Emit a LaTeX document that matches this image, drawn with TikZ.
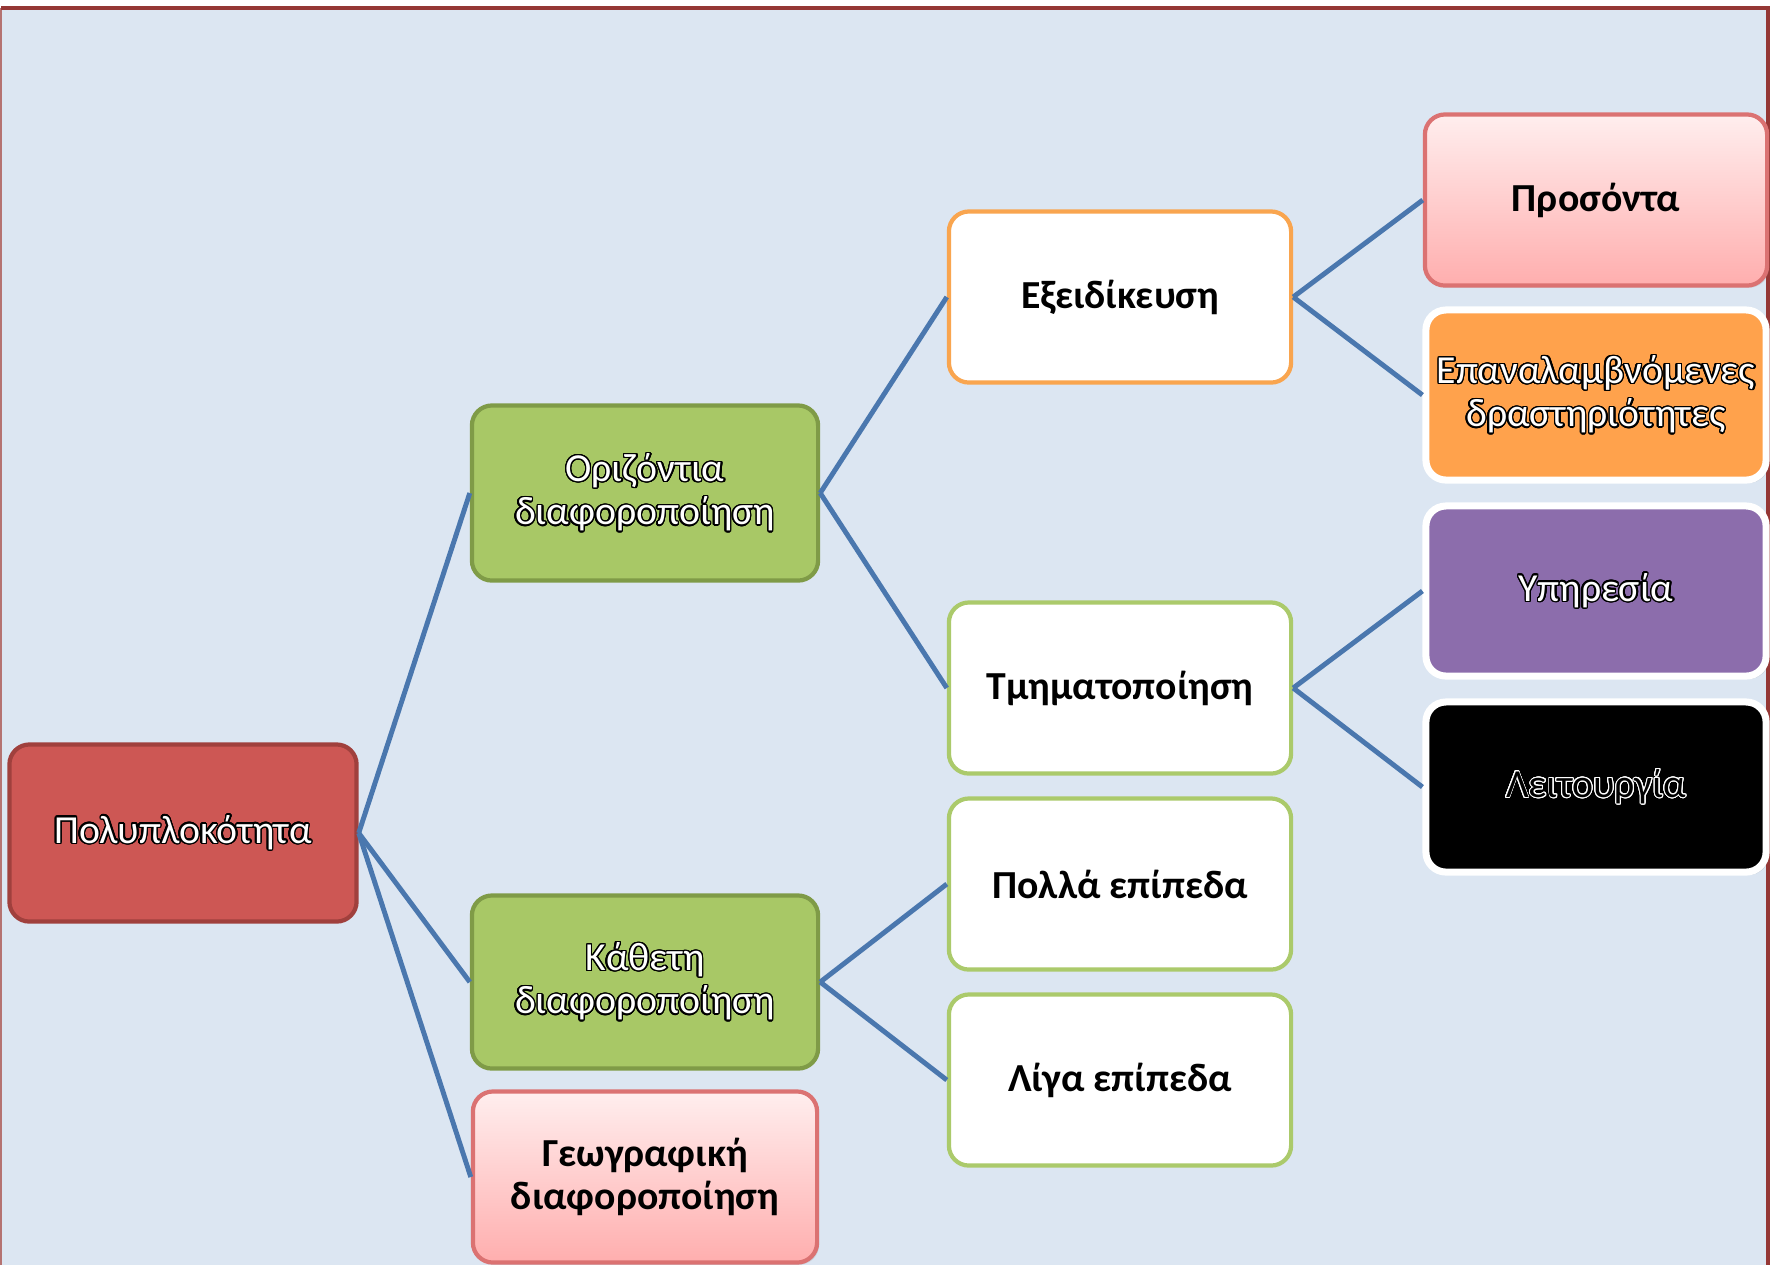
\documentclass[tikz,border=0pt]{standalone}
\usepackage{fontspec}
\setmainfont{Carlito}
\usepackage{xcolor}
\usepackage[copies]{contour}
\usetikzlibrary{shadows,positioning}

\definecolor{bgblue}{HTML}{DCE6F2}
\definecolor{framered}{HTML}{953735}
\definecolor{rootred}{HTML}{CD5754}
\definecolor{rootline}{HTML}{A0403D}
\definecolor{leafgreen}{HTML}{A8C866}
\definecolor{leafline}{HTML}{7F9B47}
\definecolor{lightgreen}{HTML}{ABCA6B}
\definecolor{orangeline}{HTML}{F9A54F}
\definecolor{orangefill}{HTML}{FFA24C}
\definecolor{purplefill}{HTML}{8C6DAC}
\definecolor{pinktop}{HTML}{FFEEEE}
\definecolor{pinkbot}{HTML}{FFAEAE}
\definecolor{pinkline}{HTML}{DB7272}
\definecolor{linkblue}{HTML}{4A77AE}

\contourlength{0.4pt}
\contournumber{24}
\newcommand{\outl}[1]{\contour{black}{#1}}

\begin{document}
\begin{tikzpicture}[x=0.01cm,y=-0.01cm,
    box/.style={rounded corners=0.2cm, align=center, inner sep=0pt, line width=1.2pt,
      font=\fontsize{11.3}{12.3}\selectfont, minimum width=3.42cm, minimum height=1.71cm},
    greenbox/.style={box, fill=leafgreen, draw=leafline, text=white, minimum width=3.46cm, minimum height=1.75cm},
    pinkbox/.style={box, draw=pinkline, top color=pinktop, bottom color=pinkbot, font=\fontsize{11.3}{12.3}\selectfont\bfseries,
      drop shadow={opacity=0.2, shadow xshift=0.6pt, shadow yshift=-0.6pt}},
    whitebox/.style={box, fill=white, font=\fontsize{11.3}{12.3}\selectfont\bfseries},
    framedbox/.style={box, draw=white, line width=2pt, minimum width=3.40cm, minimum height=1.70cm,
      drop shadow={opacity=0.25, shadow xshift=0.8pt, shadow yshift=-0.8pt}}]

  \useasboundingbox (0,0) rectangle (1779,1265);
  \fill[bgblue] (1,8) rectangle (1768,1265);
  \draw[framered!70, line width=0.6pt] (1,1265) -- (1,8);
  \draw[framered, line width=1pt] (1,8) -- (1768,8) -- (1768,1265);

  % tree
  \node[box, fill=rootred, draw=rootline, text=white, minimum width=3.47cm, minimum height=1.77cm] (root) at (183,833) {\outl{Πολυπλοκότητα}};
  \node[greenbox] (horiz) at (645,493) {\outl{Οριζόντια}\\\outl{διαφοροποίηση}};
  \node[greenbox, minimum height=1.73cm] (vert) at (645,982) {\outl{Κάθετη}\\\outl{διαφοροποίηση}};
  \node[pinkbox, minimum width=3.44cm] (geo) at (645,1177) {Γεωγραφική\\διαφοροποίηση};

  \node[whitebox, draw=orangeline] (spec) at (1120,297) {Εξειδίκευση};
  \node[whitebox, draw=lightgreen] (segm) at (1120,688) {Τμηματοποίηση};
  \node[whitebox, draw=lightgreen] (many) at (1120,884) {Πολλά επίπεδα};
  \node[whitebox, draw=lightgreen] (few) at (1120,1080) {Λίγα επίπεδα};

  \node[pinkbox] (qual) at (1596,200) {Προσόντα};
  \node[framedbox, fill=orangefill, text=white] (rep) at (1596,395) {\outl{Επαναλαμβνόμενες}\\\outl{δραστηριότητες}};
  \node[framedbox, fill=purplefill, text=white] (serv) at (1596,591) {\outl{Υπηρεσία}};
  \node[framedbox, fill=black, text=black] (func) at (1596,787) {\contourlength{0.25pt}\contour{white}{Λειτουργία}};

  \begin{scope}[every edge/.style={draw=linkblue, line width=1.4pt}]
    \path (root.east) edge (horiz.west);
    \path (root.east) edge (vert.west);
    \path (root.east) edge (geo.west);
    \path (horiz.east) edge (spec.west);
    \path (horiz.east) edge (segm.west);
    \path (vert.east) edge (many.west);
    \path (vert.east) edge (few.west);
    \path (spec.east) edge (qual.west);
    \path (spec.east) edge (rep.west);
    \path (segm.east) edge (serv.west);
    \path (segm.east) edge (func.west);
  \end{scope}
\end{tikzpicture}
\end{document}
